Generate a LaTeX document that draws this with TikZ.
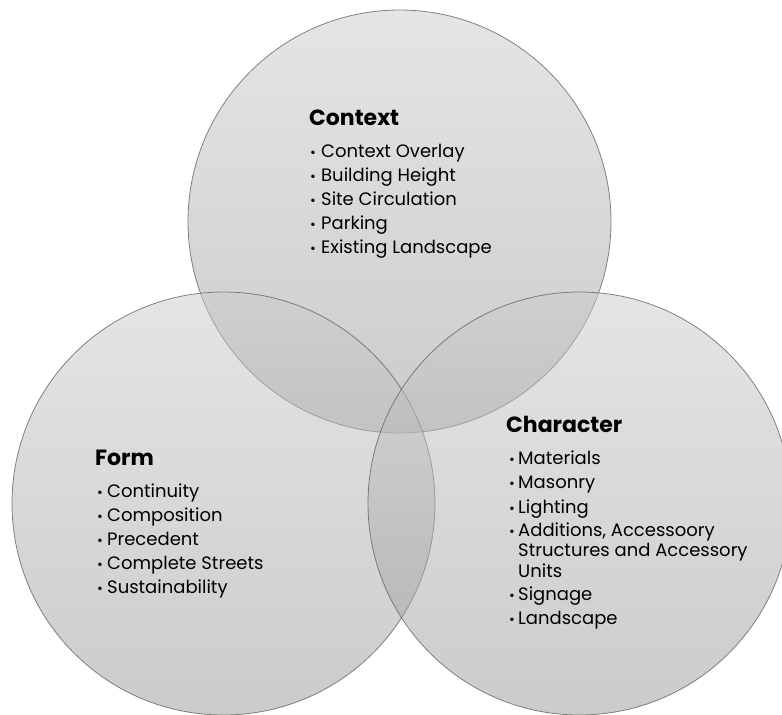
\documentclass[tikz,border=0pt]{standalone}
\usepackage{fontspec}
\setmainfont{Poppins}
\tikzset{
  venn/.style={circle, minimum size=423pt, inner sep=0pt, shade, top color=black!20, bottom color=black!40, fill opacity=0.5, draw=black!60, draw opacity=0.8, line width=0.8pt},
  ttl/.style={anchor=base west, inner sep=0pt, font=\fontsize{22}{24}\selectfont\bfseries},
  itm/.style={anchor=base west, inner sep=0pt, font=\fontsize{18}{20}\selectfont},
  bul/.style={anchor=base west, inner sep=0pt, font=\fontsize{14}{16}\selectfont}
}
\begin{document}
\begin{tikzpicture}[x=1pt,y=-1pt]
\useasboundingbox (0,0) rectangle (782,715);
\clip (0,0) rectangle (782,715);
\fill[white] (0,0) rectangle (782,715);
\node[venn] (ctxc) at (399.5,221.5) {};
\node[venn] (frmc) at (223.5,503.5) {};
\node[venn] (chrc) at (579.5,503.5) {};
% Context
\node[ttl] (ctxt) at (309,125) {Context};
\foreach \t [count=\i] in {Context Overlay,Building Height,Site Circulation,Parking,Existing Landscape}{
  \node[bul] (ctxb\i) at (310,{157+24*(\i-1)}) {\textbullet};
  \node[itm] (ctxi\i) at (321,{157+24*(\i-1)}) {\t};
}
% Form
\node[ttl] (frmt) at (95,465) {Form};
\foreach \t [count=\i] in {Continuity,Composition,Precedent,Complete Streets,Sustainability}{
  \node[bul] (frmb\i) at (97,{497+24*(\i-1)}) {\textbullet};
  \node[itm] (frmi\i) at (107,{497+24*(\i-1)}) {\t};
}
% Character
\node[ttl] (chrt) at (506,432) {Character};
\foreach \t/\y [count=\i] in {Materials/464,Masonry/488,Lighting/513,{Additions, Accessoory}/536,Signage/600,Landscape/624}{
  \node[bul] (chrb\i) at (509,\y) {\textbullet};
  \node[itm] (chri\i) at (518,\y) {\t};
}
\node[itm] (chrs1) at (518,556) {Structures and Accessory};
\node[itm] (chrs2) at (518,577) {Units};
\end{tikzpicture}
\end{document}
